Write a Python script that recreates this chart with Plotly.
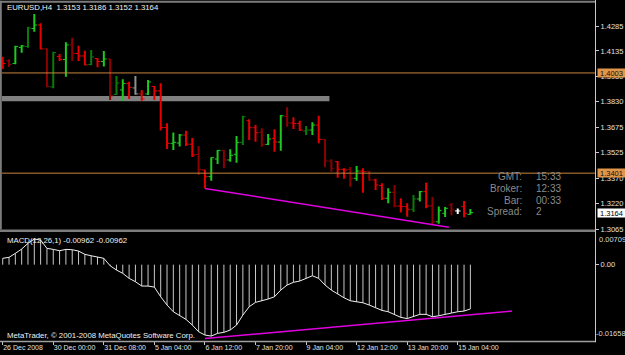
import plotly.graph_objects as go

# ---------------- data ----------------
bar_open = [1.4093, 1.4075, 1.4060, 1.4156, 1.4162, 1.4270, 1.4291, 1.4147, 1.3919, 1.4102,
            1.4084, 1.4171, 1.4120, 1.4105, 1.4054, 1.4090, 1.4072, 1.4087, 1.3874, 1.3901,
            1.3940, 1.3913, 1.3877, 1.3877, 1.3922, 1.3895, 1.3675, 1.3580, 1.3582, 1.3630,
            1.3575, 1.3513, 1.3420, 1.3380, 1.3486, 1.3538, 1.3480, 1.3514, 1.3586, 1.3716,
            1.3674, 1.3646, 1.3574, 1.3610, 1.3588, 1.3741, 1.3702, 1.3699, 1.3654, 1.3660,
            1.3690, 1.3604, 1.3474, 1.3470, 1.3424, 1.3424, 1.3370, 1.3414, 1.3412, 1.3360,
            1.3327, 1.3250, 1.3286, 1.3204, 1.3200, 1.3184, 1.3246, 1.3290, 1.3204, 1.3109,
            1.3160, 1.3210, 1.3174, 1.3200, 1.3153]
bar_high = [1.4101, 1.4085, 1.4167, 1.4171, 1.4281, 1.4357, 1.4301, 1.4151, 1.4131, 1.4117,
            1.4187, 1.4215, 1.4167, 1.4137, 1.4141, 1.4093, 1.4135, 1.4089, 1.3985, 1.3965,
            1.3950, 1.3985, 1.3901, 1.3961, 1.3925, 1.3941, 1.3701, 1.3646, 1.3636, 1.3656,
            1.3612, 1.3564, 1.3421, 1.3496, 1.3540, 1.3540, 1.3544, 1.3624, 1.3746, 1.3725,
            1.3690, 1.3671, 1.3636, 1.3665, 1.3750, 1.3797, 1.3737, 1.3716, 1.3684, 1.3707,
            1.3746, 1.3606, 1.3484, 1.3474, 1.3430, 1.3438, 1.3444, 1.3430, 1.3414, 1.3368,
            1.3340, 1.3310, 1.3330, 1.3250, 1.3220, 1.3270, 1.3294, 1.3344, 1.3258, 1.3201,
            1.3198, 1.3222, 1.3189, 1.3234, 1.3186]
bar_low = [1.4027, 1.4039, 1.4055, 1.4125, 1.4155, 1.4251, 1.4145, 1.3917, 1.3911, 1.4075,
           1.3980, 1.4075, 1.4075, 1.4049, 1.4049, 1.4037, 1.4041, 1.3841, 1.3871, 1.3834,
           1.3847, 1.3872, 1.3836, 1.3871, 1.3841, 1.3657, 1.3546, 1.3540, 1.3561, 1.3564,
           1.3498, 1.3390, 1.3309, 1.3356, 1.3456, 1.3430, 1.3470, 1.3464, 1.3570, 1.3600,
           1.3590, 1.3560, 1.3570, 1.3530, 1.3536, 1.3680, 1.3666, 1.3654, 1.3630, 1.3630,
           1.3580, 1.3436, 1.3410, 1.3374, 1.3368, 1.3320, 1.3356, 1.3284, 1.3356, 1.3300,
           1.3240, 1.3220, 1.3196, 1.3165, 1.3139, 1.3168, 1.3231, 1.3190, 1.3096, 1.3097,
           1.3138, 1.3150, 1.3155, 1.3136, 1.3152]
bar_close = [1.4060, 1.4054, 1.4162, 1.4165, 1.4273, 1.4291, 1.4147, 1.3922, 1.4126, 1.4084,
             1.4171, 1.4120, 1.4105, 1.4051, 1.4099, 1.4072, 1.4087, 1.3866, 1.3943, 1.3940,
             1.3916, 1.3877, 1.3847, 1.3949, 1.3895, 1.3675, 1.3580, 1.3586, 1.3630, 1.3575,
             1.3510, 1.3424, 1.3380, 1.3494, 1.3538, 1.3480, 1.3508, 1.3586, 1.3740, 1.3674,
             1.3644, 1.3574, 1.3606, 1.3588, 1.3746, 1.3702, 1.3699, 1.3660, 1.3660, 1.3690,
             1.3604, 1.3474, 1.3430, 1.3424, 1.3420, 1.3370, 1.3414, 1.3410, 1.3360, 1.3330,
             1.3250, 1.3286, 1.3204, 1.3200, 1.3184, 1.3246, 1.3290, 1.3204, 1.3109, 1.3176,
             1.3190, 1.3180, 1.3174, 1.3160, 1.3164]
# colour class of every bar as shown on the chart
bar_tone = ["r", "dr", "g", "g", "dg", "g", "r", "dr", "dg", "r",
            "g", "dr", "r", "r", "dg", "r", "g", "dr", "dg", "g",
            "r", "gy", "r", "g", "r", "r", "r", "g", "g", "r",
            "r", "dr", "r", "g", "g", "dr", "g", "g", "dg", "r",
            "r", "dr", "g", "r", "g", "dr", "r", "r", "dg", "g",
            "r", "dr", "dr", "r", "r", "dr", "g", "r", "dr", "r",
            "r", "g", "dr", "r", "r", "dg", "g", "r", "dr", "g",
            "g", "dr", "w", "r", "g"]

macd_values = [0.00137, 0.00159, 0.00245, 0.00339, 0.00463, 0.00556, 0.00534, 0.00354, 0.00332, 0.00302,
               0.00332, 0.00324, 0.00295, 0.00224, 0.00193, 0.00165, 0.00137, -0.00024, -0.00117, -0.00189,
               -0.00298, -0.00371, -0.00465, -0.00465, -0.00487, -0.00697, -0.00877, -0.01023, -0.01110, -0.01188,
               -0.01312, -0.01457, -0.01529, -0.01551, -0.01492, -0.01470, -0.01420, -0.01312, -0.01095, -0.00914,
               -0.00819, -0.00791, -0.00747, -0.00697, -0.00552, -0.00443, -0.00384, -0.00356, -0.00298, -0.00241,
               -0.00298, -0.00443, -0.00552, -0.00639, -0.00719, -0.00784, -0.00806, -0.00828, -0.00877, -0.00927,
               -0.00993, -0.01023, -0.01079, -0.01145, -0.01171, -0.01132, -0.01079, -0.01079, -0.01132, -0.01110,
               -0.01073, -0.01051, -0.01023, -0.01008, -0.00962]
macd_max = 0.00709
macd_min = -0.01658

time_tick_bars = [0, 8, 16, 24, 32, 40, 48, 56, 64, 72]
time_tick_labels = ["26 Dec 2008", "30 Dec 00:00", "31 Dec 08:00", "5 Jan 04:00", "6 Jan 12:00",
                    "7 Jan 20:00", "9 Jan 04:00", "12 Jan 12:00", "13 Jan 20:00", "15 Jan 04:00"]
price_ticks = [1.4285, 1.4135, 1.3980, 1.3830, 1.3675, 1.3525, 1.3370, 1.3220, 1.3065]
price_tick_labels = ["1.4285", "1.4135", "1.3980", "1.3830", "1.3675", "1.3525", "1.3370", "1.3220", "1.3065"]

level_lines = [1.4003, 1.3401]
level_labels = ["1.4003", "1.3401"]
current_price = 1.3164
zone_top, zone_bottom, zone_end_bar = 1.3864, 1.3833, 51.7
price_trend_bars = [32, 70.6]
price_trend_values = [1.3309, 1.3076]
macd_trend_bars = [32, 80.6]
macd_trend_values = [-0.01605, -0.01008]

title_text = "EURUSD,H4\u00a0\u00a01.3153 1.3186 1.3152 1.3164"
macd_title = "MACD(12,26,1) -0.00962 -0.00962"
copyright_text = "MetaTrader, \u00a9 2001-2008 MetaQuotes Software Corp."
info_labels = ["GMT:", "Broker:", "Bar:", "Spread:"]
info_values = ["15:33", "12:33", "00:33", "2"]

# ---------------- layout constants ----------------
W, H = 625, 355
def px_x(x):
    return x / W
def px_y(y):
    return 1 - y / H

PLOT_L, PLOT_R = 2, 595
BAR_STEP = 6.32
X0 = -(2.7 - PLOT_L) / BAR_STEP
X1 = X0 + (PLOT_R - PLOT_L) / BAR_STEP
PRICE_TOP, PRICE_BOT = 2.5, 229.5
MACD_TOP, MACD_BOT = 232, 341
PRICE_RANGE = [1.30626, 1.44262]

FONT = "Liberation Sans, Arial, sans-serif"
SMALL = 7.8
tone_colors = {"r": "#e60000", "dr": "#8b0000", "g": "#1ec81e", "dg": "#0a7a0a",
               "gy": "#909090", "w": "#ffffff"}

fig = go.Figure()

# ---------------- price bars ----------------
tick_half = 0.45
for tone, col in tone_colors.items():
    vx, vy, tx, ty = [], [], [], []
    for i, t in enumerate(bar_tone):
        if t != tone:
            continue
        vx += [i, i, None]
        vy += [bar_low[i], bar_high[i], None]
        tx += [i - tick_half, i, None, i, i + tick_half, None]
        ty += [bar_open[i], bar_open[i], None, bar_close[i], bar_close[i], None]
    if not vx:
        continue
    fig.add_trace(go.Scatter(x=vx, y=vy, mode="lines", line=dict(color=col, width=2),
                             xaxis="x", yaxis="y", hoverinfo="skip", showlegend=False))
    fig.add_trace(go.Scatter(x=tx, y=ty, mode="lines", line=dict(color=col, width=1),
                             xaxis="x", yaxis="y", hoverinfo="skip", showlegend=False))

fig.add_trace(go.Scatter(x=price_trend_bars, y=price_trend_values, mode="lines",
                         line=dict(color="#e000e0", width=1.5), xaxis="x", yaxis="y",
                         hoverinfo="skip", showlegend=False))

# ---------------- MACD ----------------
hx, hy = [], []
for i, v in enumerate(macd_values):
    hx += [i, i, None]
    hy += [0, v, None]
fig.add_trace(go.Scatter(x=hx, y=hy, mode="lines", line=dict(color="#c8c8c8", width=1),
                         xaxis="x2", yaxis="y2", hoverinfo="skip", showlegend=False))
fig.add_trace(go.Scatter(x=list(range(len(macd_values))), y=macd_values, mode="lines",
                         line=dict(color="#f0f0f0", width=1), xaxis="x2", yaxis="y2",
                         hoverinfo="skip", showlegend=False))
fig.add_trace(go.Scatter(x=macd_trend_bars, y=macd_trend_values, mode="lines",
                         line=dict(color="#e000e0", width=1.5), xaxis="x2", yaxis="y2",
                         hoverinfo="skip", showlegend=False))

# ---------------- shapes ----------------
shapes = []
shapes.append(dict(type="rect", xref="x", yref="y", x0=X0, x1=zone_end_bar,
                   y0=zone_bottom, y1=zone_top, fillcolor="#808080", line=dict(width=0),
                   layer="below"))
for lv in level_lines:
    shapes.append(dict(type="line", xref="paper", yref="y", x0=px_x(PLOT_L), x1=px_x(PLOT_R),
                       y0=lv, y1=lv, line=dict(color="#c8843f", width=1)))
grey = "#7c7c7c"
shapes += [
    dict(type="rect", xref="paper", yref="paper", x0=0, x1=px_x(PLOT_R), y0=px_y(2.7), y1=px_y(0.8),
         fillcolor=grey, line=dict(width=0)),
    dict(type="rect", xref="paper", yref="paper", x0=0, x1=px_x(1.8), y0=px_y(229.5), y1=px_y(0.8),
         fillcolor=grey, line=dict(width=0)),
    dict(type="rect", xref="paper", yref="paper", x0=0, x1=px_x(PLOT_R), y0=px_y(232), y1=px_y(229.5),
         fillcolor=grey, line=dict(width=0)),
    dict(type="rect", xref="paper", yref="paper", x0=0, x1=px_x(PLOT_R), y0=px_y(342.3), y1=px_y(340.8),
         fillcolor="#a0a0a0", line=dict(width=0)),
    dict(type="line", xref="paper", yref="paper", x0=px_x(PLOT_R + 0.5), x1=px_x(PLOT_R + 0.5),
         y0=px_y(342.3), y1=1, line=dict(color="#c8c8c8", width=1)),
]

# ---------------- annotations ----------------
ann = []
txt_col = "#f0f0f0"
ann.append(dict(text=title_text, xref="paper", yref="paper", x=px_x(4.5), y=px_y(8),
                xanchor="left", yanchor="middle", showarrow=False,
                font=dict(family=FONT, size=SMALL, color=txt_col)))
ann.append(dict(text=macd_title, xref="paper", yref="paper", x=px_x(4.5), y=px_y(240),
                xanchor="left", yanchor="middle", showarrow=False,
                font=dict(family=FONT, size=SMALL, color=txt_col)))
ann.append(dict(text=copyright_text, xref="paper", yref="paper", x=px_x(4.5), y=px_y(335),
                xanchor="left", yanchor="middle", showarrow=False,
                font=dict(family=FONT, size=SMALL, color=txt_col)))
info_rows = [176.7, 188.7, 200.2, 211.7]
for lab, val, ry in zip(info_labels, info_values, info_rows):
    ann.append(dict(text=lab, xref="paper", yref="paper", x=px_x(523.5), y=px_y(ry),
                    xanchor="right", yanchor="middle", showarrow=False,
                    font=dict(family=FONT, size=10, color="#8a8a8a")))
    ann.append(dict(text=val, xref="paper", yref="paper", x=px_x(534), y=px_y(ry),
                    xanchor="left", yanchor="middle", showarrow=False,
                    font=dict(family=FONT, size=10, color="#8a8a8a")))
for lv, lab in zip(level_lines, level_labels):
    ann.append(dict(text=lab, xref="paper", yref="y", x=px_x(597), y=lv, xanchor="left",
                    yanchor="middle", showarrow=False, bgcolor="#e0964a", width=27, height=8,
                    borderpad=0, font=dict(family=FONT, size=7.5, color="#101010")))
ann.append(dict(text="%.4f" % current_price, xref="paper", yref="y", x=px_x(597), y=current_price,
                xanchor="left", yanchor="middle", showarrow=False, bgcolor="#ffffff", width=27,
                height=8, borderpad=0, font=dict(family=FONT, size=7.5, color="#000000")))
ann.append(dict(text="%.5f" % macd_max, xref="paper", yref="y2", x=px_x(597), y=macd_max,
                xanchor="left", yanchor="top", yshift=-1, showarrow=False,
                font=dict(family=FONT, size=7.5, color="#d8d8d8")))
ann.append(dict(text="%.5f" % macd_min, xref="paper", yref="y2", x=px_x(594), y=macd_min,
                xanchor="left", yanchor="bottom", yshift=1, showarrow=False,
                font=dict(family=FONT, size=7.5, color="#d8d8d8")))

fig.update_layout(
    width=W, height=H, margin=dict(l=0, r=0, t=0, b=0, autoexpand=False),
    paper_bgcolor="#000000", plot_bgcolor="#000000",
    font=dict(family=FONT, size=SMALL, color="#d8d8d8"),
    showlegend=False,
    xaxis=dict(domain=[px_x(PLOT_L), px_x(PLOT_R)], range=[X0, X1], anchor="y", automargin=False,
               showgrid=False, zeroline=False, showticklabels=False, ticks="", fixedrange=True),
    yaxis=dict(domain=[px_y(PRICE_BOT), px_y(PRICE_TOP)], range=PRICE_RANGE, anchor="x",
               automargin=False, side="right", showgrid=False, zeroline=False, tickmode="array",
               tickvals=price_ticks, ticktext=price_tick_labels, ticks="outside", ticklen=3,
               tickcolor="#c8c8c8", tickfont=dict(family=FONT, size=7.5, color="#e0e0e0")),
    xaxis2=dict(domain=[px_x(PLOT_L), px_x(PLOT_R)], range=[X0, X1], anchor="y2", matches="x",
                automargin=False, showgrid=False, zeroline=False, tickmode="array",
                tickvals=time_tick_bars, ticktext=time_tick_labels, ticks="outside", ticklen=3,
                tickcolor="#c8c8c8", tickangle=0, ticklabelposition="outside right",
                tickfont=dict(family=FONT, size=7, color="#e0e0e0")),
    yaxis2=dict(domain=[px_y(MACD_BOT), px_y(MACD_TOP)], range=[macd_min, macd_max], anchor="x2",
                automargin=False, side="right", showgrid=False, zeroline=False, tickmode="array",
                tickvals=[0], ticktext=["0.00"], ticks="outside", ticklen=3, tickcolor="#c8c8c8",
                tickfont=dict(family=FONT, size=7.5, color="#e0e0e0")),
    shapes=shapes,
    annotations=ann,
)

fig.write_html("out.html")
